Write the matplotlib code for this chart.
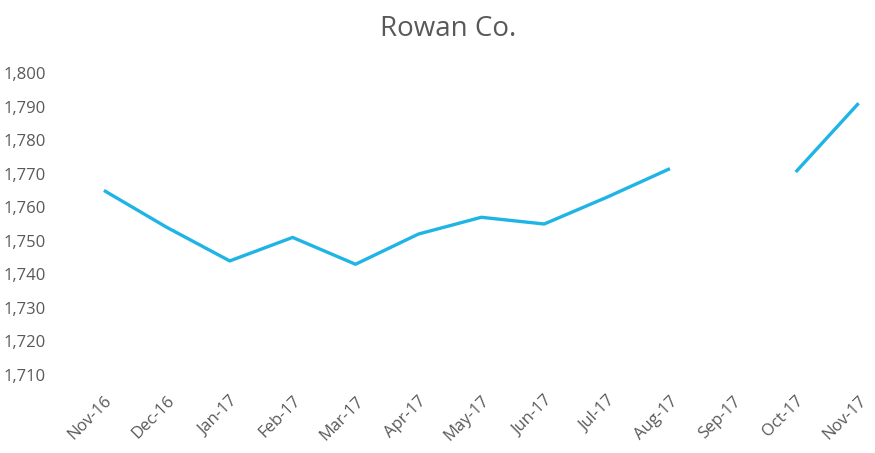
import numpy as np
import matplotlib.pyplot as plt

# monthly values for Rowan Co. (Sep-17 not reported)
months = ['Nov-16', 'Dec-16', 'Jan-17', 'Feb-17', 'Mar-17', 'Apr-17', 'May-17',
          'Jun-17', 'Jul-17', 'Aug-17', 'Sep-17', 'Oct-17', 'Nov-17']
values = [1765, 1754, 1744, 1751, 1743, 1752, 1757, 1755, 1763, 1771.5,
          np.nan, 1770.5, 1791]
yticks = [1710, 1720, 1730, 1740, 1750, 1760, 1770, 1780, 1790, 1800]

plt.rcParams['font.family'] = ['Open Sans', 'DejaVu Sans']
grey = '#595959'

fig = plt.figure(figsize=(8.75, 4.53), dpi=100)
ax = fig.add_axes([72.5 / 875, 78 / 453, (875 - 72.5) / 875, 302 / 453])

x = np.arange(len(months))
ax.plot(x, values, color='#1FB4E6', linewidth=2.4, solid_capstyle='butt')

ax.set_xlim(-0.5, 12.26)
ax.set_ylim(1710, 1800)
ax.set_yticks(yticks)
ax.set_yticklabels([f'{v:,}' for v in yticks])
ax.set_xticks(x)
ax.set_xticklabels(months, rotation=45, ha='right', rotation_mode='anchor')

ax.tick_params(axis='both', length=0, colors=grey, labelsize=12)
ax.tick_params(axis='y', pad=19)
ax.tick_params(axis='x', pad=13)
for s in ax.spines.values():
    s.set_visible(False)

fig.text(448 / 875, 1 - 29 / 453, 'Rowan Co.', ha='center', va='center',
         fontsize=20, color=grey)

fig.savefig('out.png', dpi=100)
